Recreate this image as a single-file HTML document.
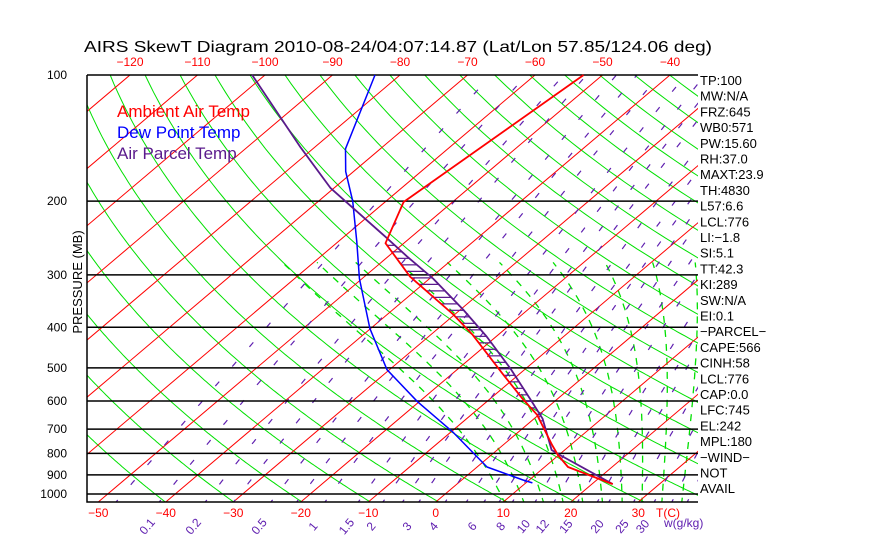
<!DOCTYPE html>
<html><head><meta charset="utf-8"><style>
html,body{margin:0;padding:0;background:#fff;}
svg{display:block;font-family:"Liberation Sans",sans-serif;}
</style></head><body>
<svg id="chart" width="870" height="560" viewBox="0 0 870 560" xmlns="http://www.w3.org/2000/svg">
<defs><clipPath id="plotclip"><rect x="87" y="75" width="611" height="427"/></clipPath></defs>
<text x="84" y="52" font-size="16" textLength="628" lengthAdjust="spacingAndGlyphs" fill="#000">AIRS SkewT Diagram 2010-08-24/04:07:14.87 (Lat/Lon 57.85/124.06 deg)</text>
<g id="bg" clip-path="url(#plotclip)"></g>
<g id="grid"></g>
<g id="hatch"></g>
<g id="series"></g>
<g id="labels"></g>
<text x="117" y="117" font-size="17" fill="#ff0000">Ambient Air Temp</text>
<text x="117" y="138" font-size="17" fill="#0000ff">Dew Point Temp</text>
<text x="117" y="159" font-size="17" fill="#5a1a8c">Air Parcel Temp</text>
<text transform="translate(82,282) rotate(-90)" text-anchor="middle" font-size="13" fill="#000">PRESSURE (MB)</text>
<g id="info" font-size="13" fill="#000"></g>
</svg>
<script>
const pressureTicks=[100,200,300,400,500,600,700,800,900,1000];
const bottomTempTicks=[-50,-40,-30,-20,-10,0,10,20,30];
const topTempTicks=[-120,-110,-100,-90,-80,-70,-60,-50,-40];
const mixLabels=["0.1","0.2","0.5","1","1.5","2","3","4","6","8","10","12","15","20","25","30"];
const mixValues=[0.1,0.2,0.5,1,1.5,2,3,4,6,8,10,12,15,20,25,30];
const ambientP=[100,201,252,303,373,417,519,593,647,764,807,862,947];
const ambientT=[-52.8,-57.3,-52.8,-43.3,-30.3,-23.9,-12.4,-5.3,-0.4,7.1,9.7,13.3,22.9];
const parcelP=[100,148,186,243,271,306,363,421,502,593,661,785,807,947];
const parcelT=[-101.9,-82.4,-70.6,-54.0,-47.3,-39.6,-29.7,-21.5,-12.4,-4.2,1.1,7.9,10.0,22.9];
const dewP=[100,150,170,200,250,306,403,505,602,711,862,926,941];
const dewT=[-83.7,-75.2,-71.2,-65.0,-57.3,-50.5,-40.2,-30.5,-20.4,-9.9,1.3,8.9,10.8];
const infoLines=["TP:100","MW:N/A","FRZ:645","WB0:571","PW:15.60","RH:37.0","MAXT:23.9","TH:4830","L57:6.6","LCL:776","LI:\u22121.8","SI:5.1","TT:42.3","KI:289","SW:N/A","EI:0.1","\u2212PARCEL\u2212","CAPE:566","CINH:58","LCL:776","CAP:0.0","LFC:745","EL:242","MPL:180","\u2212WIND\u2212"," NOT"," AVAIL"];

const NS="http://www.w3.org/2000/svg";
const X0=87,X1=698,YT=75,YB=502,DEC=419,SC=6.75,K=1.178,T0X=437;
function yP(p){return YT+DEC*Math.log10(p/100);}
function xT(t,p){return T0X+SC*t+(YB-yP(p))*K;}
function mk(tag,parent,attrs){const e=document.createElementNS(NS,tag);for(const k in attrs)e.setAttribute(k,attrs[k]);parent.appendChild(e);return e;}
const bg=document.getElementById('bg'),grid=document.getElementById('grid'),ser=document.getElementById('series'),lab=document.getElementById('labels'),hat=document.getElementById('hatch'),info=document.getElementById('info');
const plist=[];for(let p=1060;p>=95;p-=5)plist.push(p);
function pathOf(fn){let d='';plist.forEach((p,i)=>{d+=(i?'L':'M')+xT(fn(p),p).toFixed(1)+','+yP(p).toFixed(1);});return d;}
for(let th=230;th<=500;th+=10){
 const e=mk('path',bg,{d:pathOf(p=>th*Math.pow(p/1000,0.2857)-273.15),fill:'none',stroke:'#00e000','stroke-width':1});
 
}
function es(t){return 6.112*Math.exp(17.67*t/(t+243.5));}
for(let tw=8;tw<=40;tw+=3){
 function integ(dir){let T=tw+273.15,P=1000,out=[];for(let i=0;i<400;i++){out.push([T-273.15,P]);const e=es(T-273.15),rs=0.622*e/(P-e);const dTdp=(287*T+2.5e6*rs)/(P*(1004+2.5e6*2.5e6*rs*0.622/(287*T*T)));const dp=dir*5;T+=dTdp*dp;P+=dp;if(P<280||P>1060)break;}return out;}
 const up=integ(-1),dn=integ(1);const all=dn.reverse().concat(up.slice(1));
 let d='';all.forEach((q,i)=>{d+=(i?'L':'M')+xT(q[0],q[1]).toFixed(1)+','+yP(q[1]).toFixed(1);});
 const e=mk('path',bg,{d:d,fill:'none',stroke:'#00e000','stroke-width':1.3,'stroke-dasharray':'7,7'});
 
}
for(let t=-140;t<=60;t+=10){
 const e=mk('line',bg,{x1:xT(t,1051),y1:YB,x2:xT(t,100),y2:YT,stroke:'#ff0000','stroke-width':1});
 
}
function tw_(w,p){const e=w*p/(622+w);const l=Math.log(e/6.112);return 243.5*l/(17.67-l);}
const mixAll=[0.05,0.1,0.2,0.3,0.5,0.7,1,1.5,2,2.5,3,4,5,6,7,8,10,12,15,18,20,25,30,35,40,50];
mixAll.forEach(w=>{
 const e=mk('path',bg,{d:pathOf(p=>tw_(w,p)),fill:'none',stroke:'#6020b0','stroke-width':1.2,'stroke-dasharray':'6,20'});
 
});
pressureTicks.forEach(p=>{
 const y=yP(p);
 const l=mk('line',grid,{x1:X0,y1:y,x2:X1,y2:y,stroke:'#000','stroke-width':1.5});
 
 const t=mk('text',lab,{x:67,y:y+4,'text-anchor':'end','font-size':12,fill:'#000'});t.textContent=p;
 
});
let fr=mk('path',grid,{d:`M${X0},${YT}V${YB}H${X1}`,fill:'none',stroke:'#000','stroke-width':1.5});

bottomTempTicks.forEach(t=>{const e=mk('text',lab,{x:xT(t,1051),y:517,'text-anchor':'middle','font-size':12,fill:'#ff0000'});e.textContent=(t<0?'\u2212'+(-t):t);
 });
topTempTicks.forEach(t=>{const e=mk('text',lab,{x:xT(t,100),y:66,'text-anchor':'middle','font-size':12,fill:'#ff0000'});e.textContent='\u2212'+(-t);
 });
let tc=mk('text',lab,{x:668,y:517,'text-anchor':'middle','font-size':12,fill:'#ff0000'});tc.textContent='T(C)';

mixValues.forEach((w,i)=>{const x=xT(tw_(w,1051),1051)-8;const e=mk('text',lab,{transform:`translate(${x.toFixed(1)},529) rotate(-50)`,'text-anchor':'middle','font-size':12,fill:'#6020b0'});e.textContent=mixLabels[i];
 });
let wl=mk('text',lab,{x:664,y:527,'font-size':12,fill:'#6020b0'});wl.textContent='w(g/kg)';

function interpT(P,T,p){for(let i=0;i<P.length-1;i++){if(p>=P[i]&&p<=P[i+1]){const f=(Math.log(p)-Math.log(P[i]))/(Math.log(P[i+1])-Math.log(P[i]));return T[i]+f*(T[i+1]-T[i]);}}return null;}
for(let y=yP(255);y<yP(790);y+=6.5){
 const p=100*Math.pow(10,(y-YT)/DEC);const ta=interpT(ambientP,ambientT,p),tp=interpT(parcelP,parcelT,p);
 if(ta==null||tp==null||tp<=ta)continue;
 const e=mk('line',hat,{x1:xT(ta,p),y1:y,x2:xT(tp,p),y2:y,stroke:'#5a1a8c','stroke-width':1.2});
 
}
function poly(P,T,color,name,w){let d='';P.forEach((p,i)=>{d+=(i?'L':'M')+xT(T[i],p).toFixed(1)+','+yP(p).toFixed(1);});
 const e=mk('path',ser,{d:d,fill:'none',stroke:color,'stroke-width':w,'stroke-linejoin':'round'});
 }
poly(dewP,dewT,'#0000ff','dewpoint-line',1.5);
poly(parcelP,parcelT,'#5a1a8c','parcel-line',1.8);
poly(ambientP,ambientT,'#ff0000','ambient-temp-line',1.8);
infoLines.forEach((s,i)=>{const e=mk('text',info,{x:700,y:85+i*15.7,'font-size':13});e.textContent=s;
 });
</script>
</body></html>
